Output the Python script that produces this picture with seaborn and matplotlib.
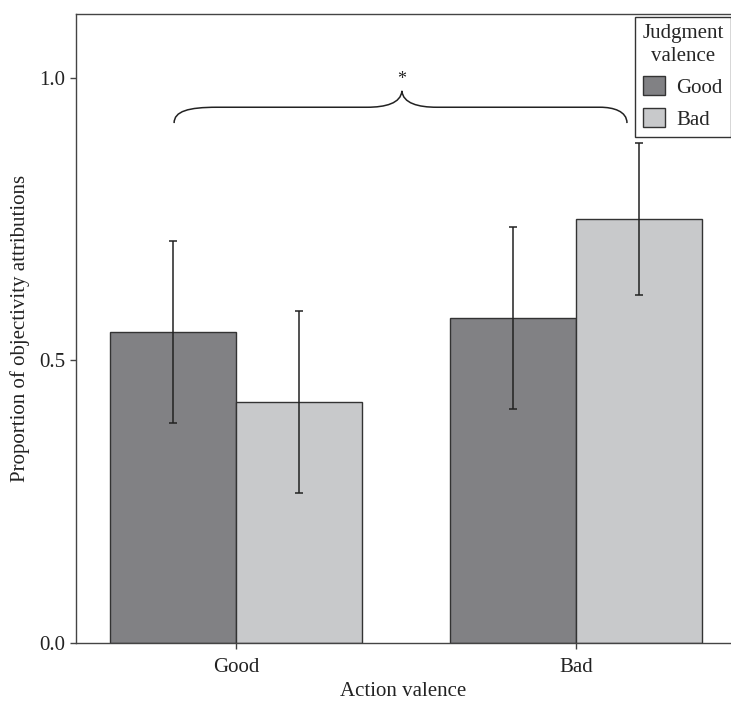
import matplotlib
matplotlib.use("Agg")
import matplotlib.pyplot as plt
from matplotlib.path import Path
from matplotlib.patches import PathPatch
import pandas as pd
import seaborn as sns

# DATA
action = ["Good", "Good", "Bad", "Bad"]
judgment = ["Good", "Bad", "Good", "Bad"]
proportion = [0.550, 0.427, 0.575, 0.750]
error = [0.161, 0.161, 0.161, 0.134]

action_order = ["Good", "Bad"]
judgment_order = ["Good", "Bad"]
colors = ["#808185", "#c8c9cb"]

df = pd.DataFrame({
    "action": action,
    "judgment": judgment,
    "proportion": proportion,
    "error": error,
})

sns.set_style("ticks")
plt.rcParams["font.family"] = ["Liberation Serif", "DejaVu Serif"]
plt.rcParams["font.size"] = 15

fig = plt.figure(figsize=(7.31, 7.02), dpi=100)
ax = fig.add_axes([76 / 731, 1 - 643 / 702, (731 - 76) / 731, (643 - 14) / 702])

sns.barplot(
    data=df,
    x="action",
    y="proportion",
    hue="judgment",
    order=action_order,
    hue_order=judgment_order,
    palette=colors,
    width=0.74,
    edgecolor="#333333",
    linewidth=1.0,
    errorbar=None,
    ax=ax,
)

# error bars on top of each bar
for level, container in zip(judgment_order, ax.containers):
    for cat, bar in zip(action_order, container):
        row = df[(df["action"] == cat) & (df["judgment"] == level)].iloc[0]
        cx = bar.get_x() + bar.get_width() / 2
        ax.errorbar(cx, row["proportion"], yerr=row["error"], fmt="none",
                    ecolor="#222222", elinewidth=1.1, capsize=3, capthick=1.1,
                    zorder=5)

# curly brace with significance star
xl, xm, xr = -0.182, 0.488, 1.15
y0, yh, yt = 0.920, 0.948, 0.977
verts = [
    (xl, y0), (xl, 0.941), (-0.14, yh), (-0.056, yh),
    (0.385, yh),
    (0.44, yh), (xm - 0.003, 0.955), (xm, yt),
    (xm + 0.003, 0.955), (0.536, yh), (0.591, yh),
    (1.071, yh),
    (1.11, yh), (xr, 0.941), (xr, y0),
]
codes = [Path.MOVETO, Path.CURVE4, Path.CURVE4, Path.CURVE4,
         Path.LINETO,
         Path.CURVE4, Path.CURVE4, Path.CURVE4,
         Path.CURVE4, Path.CURVE4, Path.CURVE4,
         Path.LINETO,
         Path.CURVE4, Path.CURVE4, Path.CURVE4]
ax.add_patch(PathPatch(Path(verts, codes), facecolor="none",
                       edgecolor="#222222", linewidth=1.1))
ax.text(xm, 0.997, "*", ha="center", va="center", fontsize=13, color="#222222")

ax.set_xlim(-0.4706, 1.456)
ax.set_ylim(0, 1.113)
ax.set_yticks([0.0, 0.5, 1.0])
ax.set_yticklabels(["0.0", "0.5", "1.0"])
ax.set_xlabel("Action valence", fontsize=15, color="#222222", labelpad=4)
ax.set_ylabel("Proportion of objectivity attributions", fontsize=15,
              color="#222222", labelpad=7)
ax.tick_params(axis="both", direction="out", length=4, width=1,
               colors="#444444", labelcolor="#222222", labelsize=15)
ax.tick_params(axis="x", pad=6.5)

for side in ["left", "bottom", "top"]:
    ax.spines[side].set_color("#444444")
    ax.spines[side].set_linewidth(1.0)
ax.spines["right"].set_visible(False)

handles, labels = ax.get_legend_handles_labels()
leg = ax.legend(handles, labels, title="Judgment\nvalence", loc="upper right",
                bbox_to_anchor=(1.0, 0.995), fontsize=15, title_fontsize=15,
                frameon=True, fancybox=False, framealpha=1,
                edgecolor="#333333", handlelength=1.05, handleheight=1.0,
                handletextpad=0.55, borderpad=0.35, labelspacing=0.5,
                borderaxespad=0.0)
leg.get_frame().set_linewidth(1.0)
leg.get_title().set_multialignment("center")
leg.get_title().set_linespacing(1.25)

fig.savefig("out.png", dpi=100)
